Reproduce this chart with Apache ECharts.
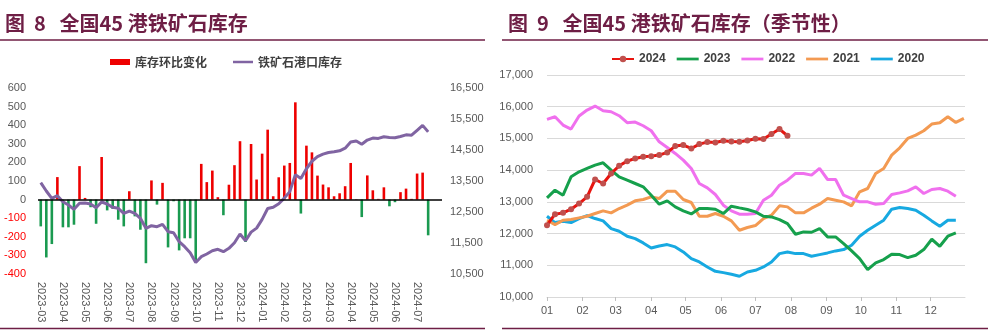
<!DOCTYPE html>
<html><head><meta charset="utf-8">
<script src="https://cdn.jsdelivr.net/npm/echarts/dist/echarts.min.js"></script>
<style>html,body{margin:0;padding:0;background:#fff}#c{width:1002px;height:332px}</style>
</head><body><div id="c"></div><script>
// ---------- Figure 8 data (weekly, Fridays) ----------
const weekDates = [
 '2023-03-31','2023-04-07','2023-04-14','2023-04-21','2023-04-28','2023-05-05','2023-05-12','2023-05-19','2023-05-26',
 '2023-06-02','2023-06-09','2023-06-16','2023-06-23','2023-06-30','2023-07-07','2023-07-14','2023-07-21','2023-07-28',
 '2023-08-04','2023-08-11','2023-08-18','2023-08-25','2023-09-01','2023-09-08','2023-09-15','2023-09-22','2023-09-29',
 '2023-10-06','2023-10-13','2023-10-20','2023-10-27','2023-11-03','2023-11-10','2023-11-17','2023-11-24','2023-12-01',
 '2023-12-08','2023-12-15','2023-12-22','2023-12-29',
 '2024-01-05','2024-01-12','2024-01-19','2024-01-26','2024-02-02','2024-02-09','2024-02-16','2024-02-23','2024-03-01',
 '2024-03-08','2024-03-15','2024-03-22','2024-03-29','2024-04-05','2024-04-12','2024-04-19','2024-04-26','2024-05-03',
 '2024-05-10','2024-05-17','2024-05-24','2024-05-31','2024-06-07','2024-06-14','2024-06-21','2024-06-28','2024-07-05',
 '2024-07-12','2024-07-19','2024-07-26','2024-08-02','',''
];
const weeklyChange = [
 -144,-311,-239,121,-149,-149,-135,180,9,-41,-130,229,-58,-50,-108,-144,45,-90,-162,-342,
 103,-27,90,-257,-9,-273,-208,-208,-332,192,94,156,13,-84,80,185,314,-228,299,108,
 247,376,18,120,183,197,523,-75,290,254,129,81,66,18,34,72,197,2,-94,130,
 50,4,66,-36,-14,40,59,4,140,145,-192
];
const portStock = [
 13446,13177,12941,13026,12832,12726,12586,12780,12790,12758,12639,12822,12758,12650,12618,12457,12532,12457,12296,11973,
 12059,12027,12102,11864,11833,11542,11381,11187,10870,11058,11145,11252,11296,11219,11328,11510,11790,11574,11850,11980,
 12263,12611,12653,12768,12947,13158,13705,13579,13895,14137,14284,14368,14421,14442,14474,14558,14758,14790,14684,14821,
 14884,14874,14926,14905,14895,14937,14989,14979,15137,15295,15084
];
// ---------- Figure 9 data (seasonal, weekly) ----------
const seasonWeeks = [
 '01-01','01-08','01-15','01-22','01-29','02-05','02-12','02-19','02-26','03-04','03-11','03-18','03-25',
 '04-01','04-08','04-15','04-22','04-29','05-06','05-13','05-20','05-27','06-03','06-10','06-17','06-24',
 '07-01','07-08','07-15','07-22','07-29','08-05','08-12','08-19','08-26','09-02','09-09','09-16','09-23','09-30',
 '10-07','10-14','10-21','10-28','11-04','11-11','11-18','11-25','12-02','12-09','12-16','12-23','12-30'
];
const y2024 = [12263,12611,12653,12768,12947,13158,13705,13579,13895,14137,14284,14368,14421,14442,14474,14558,14758,14790,14684,14821,
 14884,14874,14926,14905,14895,14937,14989,14979,15137,15295,15084];
const y2023 = [13126,13368,13210,13789,13947,14053,14158,14232,14000,13789,13684,13579,13474,13210,12926,13032,12842,12716,12620,12790,
 12790,12768,12632,12863,12810,12758,12684,12547,12526,12442,12316,11979,12053,12042,12158,11895,11895,11684,11453,11211,
 10863,11074,11179,11347,11337,11242,11316,11495,11821,11600,11916,12021];
const y2022 = [15600,15684,15421,15295,15705,15895,16021,15874,15842,15716,15495,15516,15400,15242,14895,14716,14526,14316,14050,13579,
 13442,13232,12895,12716,12611,12611,12632,13053,13210,13526,13684,13895,13895,13842,14053,13705,13705,13210,13105,13000,
 13000,12926,12947,13232,13284,13347,13474,13263,13390,13421,13337,13179];
const y2021 = [12421,12284,12421,12442,12495,12547,12632,12716,12653,12789,12895,13032,13074,13158,13105,13337,13337,13074,12979,12547,
 12547,12632,12547,12400,12105,12190,12253,12474,12579,12874,12842,12653,12653,12800,12926,13105,13053,13000,12874,13316,
 13421,13895,14053,14474,14705,15000,15105,15242,15453,15495,15684,15505,15632];
const y2020 = [12547,12347,12389,12347,12474,12568,12474,12400,12158,12074,11916,11842,11705,11547,11610,11653,11579,11421,11210,11105,
 10947,10810,10768,10716,10653,10790,10842,10947,11105,11368,11421,11368,11368,11284,11337,11390,11453,11495,11632,11916,
 12105,12263,12421,12768,12821,12789,12737,12579,12400,12232,12421,12421];
const seasonYear = '2024';
const seasonNames = ['2024','2023','2022','2021','2020'];

// ---------- styles ----------
const CJK = '"Noto Sans CJK SC", sans-serif';
const NUM = '"Liberation Sans Narrow", "Liberation Sans", sans-serif';
const MAROON = '#6e1e45';
const AXIS_TXT = '#595959';
const RED = '#ee0000', GREEN = '#1a9a50', PURPLE = '#8064a2';
const LINE_ICON = 'path://M0,0 L24,0 L24,3 L0,3 Z';
const thousands = v => Number(v).toLocaleString('en-US');
const toSeason = vals => vals.map((v, i) => [seasonYear + '-' + seasonWeeks[i], v]);

const chart = echarts.init(document.getElementById('c'), null, {renderer: 'canvas'});
const option = {
  animation: false,
  backgroundColor: '#fff',
  textStyle: {fontFamily: CJK},
  title: [
    {text: '图  8   全国45 港铁矿石库存', left: 5, top: 13, padding: 0,
     textStyle: {fontSize: 20, fontWeight: 'bold', color: MAROON, fontFamily: CJK}},
    {text: '图  9   全国45 港铁矿石库存（季节性）', left: 508, top: 13, padding: 0,
     textStyle: {fontSize: 20, fontWeight: 'bold', color: MAROON, fontFamily: CJK}}
  ],
  graphic: [
    {type: 'line', shape: {x1: 0, y1: 40, x2: 485, y2: 40}, style: {stroke: MAROON, lineWidth: 1.5}},
    {type: 'line', shape: {x1: 502, y1: 40, x2: 988, y2: 40}, style: {stroke: MAROON, lineWidth: 1.5}},
    {type: 'line', shape: {x1: 0, y1: 328.5, x2: 485, y2: 328.5}, style: {stroke: MAROON, lineWidth: 1.5}},
    {type: 'line', shape: {x1: 502, y1: 328.5, x2: 988, y2: 328.5}, style: {stroke: MAROON, lineWidth: 1.5}}
  ],
  legend: [
    {left: 110, top: 56, padding: 0, itemWidth: 20, itemHeight: 6, itemGap: 26,
     data: [{name: '库存环比变化', icon: 'rect'}, {name: '铁矿石港口库存', icon: LINE_ICON}],
     textStyle: {fontSize: 12, fontWeight: 'bold', color: '#404040', fontFamily: CJK}},
    {left: 611, top: 53, padding: 0, itemWidth: 22, itemHeight: 8, itemGap: 11,
     data: [{name: '2024'}].concat(seasonNames.slice(1).map(n => ({name: n, icon: LINE_ICON}))),
     textStyle: {fontSize: 12, fontWeight: 'bold', color: '#404040', fontFamily: NUM}}
  ],
  grid: [
    {left: 38, top: 88, width: 404, height: 186},
    {left: 547, top: 75, width: 418, height: 222}
  ],
  xAxis: [
    {type: 'category', gridIndex: 0, data: weekDates, boundaryGap: true,
     axisLine: {show: false}, axisTick: {show: false},
     axisLabel: {interval: 3, rotate: -90, margin: 8, fontSize: 11, color: AXIS_TXT, fontFamily: NUM,
                 formatter: v => v.slice(0, 7)}},
    {type: 'time', gridIndex: 1, min: seasonYear + '-01-01', max: seasonYear + '-12-31',
     splitNumber: 12, minInterval: 28 * 864e5, maxInterval: 31 * 864e5,
     axisLine: {lineStyle: {color: '#d9d9d9', width: 1}},
     axisTick: {show: true, length: 4, lineStyle: {color: '#bfbfbf'}},
     splitLine: {show: false},
     axisLabel: {fontSize: 11, color: AXIS_TXT, fontFamily: NUM, margin: 8, showMaxLabel: false, showMinLabel: true,
                 formatter: v => String(new Date(v).getMonth() + 1).padStart(2, '0')}}
  ],
  yAxis: [
    {type: 'value', gridIndex: 0, min: -400, max: 600, interval: 100,
     splitLine: {show: false}, axisLine: {show: false}, axisTick: {show: false},
     axisLabel: {fontSize: 11, fontFamily: NUM, margin: 12,
                 color: v => Number(v) < 0 ? '#ff0000' : AXIS_TXT}},
    {type: 'value', gridIndex: 0, position: 'right', min: 10500, max: 16500, interval: 1000,
     splitLine: {show: false}, axisLine: {show: false}, axisTick: {show: false},
     axisLabel: {fontSize: 11, fontFamily: NUM, color: AXIS_TXT, margin: 8, formatter: thousands}},
    {type: 'value', gridIndex: 1, min: 10000, max: 17000, interval: 1000,
     splitLine: {lineStyle: {color: '#d9d9d9', width: 1}}, axisLine: {show: false}, axisTick: {show: false},
     axisLabel: {fontSize: 11, fontFamily: NUM, color: AXIS_TXT, margin: 14, formatter: thousands}}
  ],
  series: [
    {name: '库存环比变化', type: 'bar', xAxisIndex: 0, yAxisIndex: 0, barWidth: 2.6,
     itemStyle: {color: RED},
     data: weeklyChange.map(v => v < 0 ? {value: v, itemStyle: {color: GREEN}} : v),
     markLine: {silent: true, symbol: 'none', label: {show: false},
                lineStyle: {color: '#000', width: 1.5, type: 'solid'}, data: [{yAxis: 0}]}},
    {name: '铁矿石港口库存', type: 'line', xAxisIndex: 0, yAxisIndex: 1, showSymbol: false, symbol: 'none',
     lineStyle: {color: PURPLE, width: 3}, itemStyle: {color: PURPLE}, data: portStock},
    {name: '2020', type: 'line', xAxisIndex: 1, yAxisIndex: 2, symbol: 'none',
     lineStyle: {color: '#17a9e1', width: 3}, itemStyle: {color: '#17a9e1'}, data: toSeason(y2020)},
    {name: '2021', type: 'line', xAxisIndex: 1, yAxisIndex: 2, symbol: 'none',
     lineStyle: {color: '#f39a52', width: 3}, itemStyle: {color: '#f39a52'}, data: toSeason(y2021)},
    {name: '2022', type: 'line', xAxisIndex: 1, yAxisIndex: 2, symbol: 'none',
     lineStyle: {color: '#f070ee', width: 3}, itemStyle: {color: '#f070ee'}, data: toSeason(y2022)},
    {name: '2023', type: 'line', xAxisIndex: 1, yAxisIndex: 2, symbol: 'none',
     lineStyle: {color: '#16a04c', width: 3}, itemStyle: {color: '#16a04c'}, data: toSeason(y2023)},
    {name: '2024', type: 'line', xAxisIndex: 1, yAxisIndex: 2, symbol: 'circle', symbolSize: 6,
     lineStyle: {color: '#e8140f', width: 3}, itemStyle: {color: '#c0504d'}, data: toSeason(y2024)}
  ]
};
chart.setOption(option);
</script></body></html>
